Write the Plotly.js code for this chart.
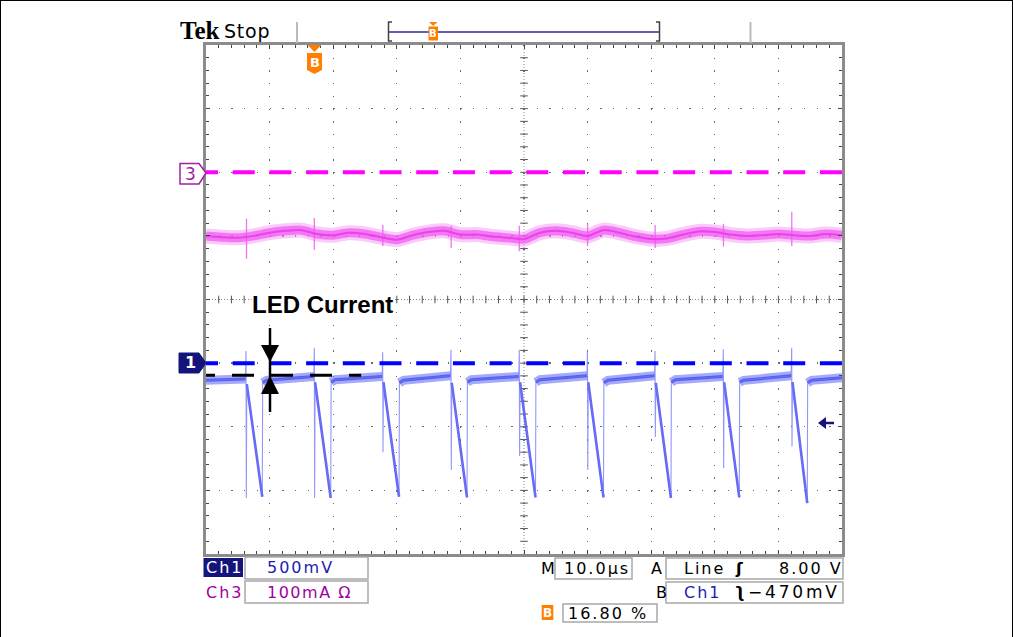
<!DOCTYPE html>
<html><head><meta charset="utf-8">
<script src="https://cdn.plot.ly/plotly-3.0.1.min.js"></script>
<style>
html,body{margin:0;padding:0;background:#fff;}
#wrap{position:relative;width:1013px;height:637px;overflow:hidden;}
#chart{position:absolute;left:0;top:0;width:1013px;height:637px;}
#frame{position:absolute;left:0;top:0;width:1013px;height:637px;box-sizing:border-box;border:1px solid #000;border-bottom:none;pointer-events:none;}
</style></head><body>
<div id="wrap"><div id="chart"></div><div id="frame"></div></div>
<script>
// ---------- data (time in µs, 10 µs/div; vertical in divisions) ----------
const timeRange = [0, 100];
const divRange = [-4, 4];
const ch3Ground = 2;
const ch1Ground = -1;
const ledCurrentLevel = -1.19;

// Ch1 (LED switch waveform, blue)
const blueSpikeT      = [6.29, 17.03, 27.78, 38.52, 49.26, 59.98, 70.60, 81.34, 92.09];
const blueSpikeTop    = [-0.81, -0.76, -0.83, -0.79, -0.79, -0.79, -0.81, -0.78, -0.76];
const blueSpikeLow    = [-3.12, -3.12, -2.40, -2.68, -2.46, -2.68, -2.16, -2.65, -2.31];
const blueRampTop     = [-1.33, -1.30, -1.30, -1.31, -1.30, -1.30, -1.31, -1.30, -1.30];
const blueRampEndT    = [8.85, 19.61, 30.35, 41.04, 51.81, 62.50, 73.11, 83.85, 94.54];
const blueRampBottom  = [-3.10, -3.12, -3.10, -3.11, -3.11, -3.11, -3.12, -3.11, -3.20];
const blueFlatStart   = [-1.27, -1.31, -1.30, -1.31, -1.30, -1.30, -1.31, -1.30, -1.30, -1.31];
const blueFlatKnee    = [-1.27, -1.27, -1.26, -1.27, -1.26, -1.26, -1.27, -1.26, -1.27, -1.27];
const blueFlatEnd     = [-1.25, -1.21, -1.21, -1.20, -1.21, -1.20, -1.20, -1.21, -1.20, -1.23];

// Ch3 (inductor current, magenta)
const pinkT = [0,2.5,5,7.5,10,12.5,15,17.5,20,22.5,25,27.5,30,32.5,35,37.5,40,42.5,45,47.5,50,52.5,55,57.5,60,62.5,65,67.5,70,72.5,75,77.5,80,82.5,85,87.5,90,92.5,95,97.5,100];
const pinkY = [1.00,0.98,0.97,1.00,1.05,1.08,1.09,1.03,1.01,1.05,1.03,0.98,0.94,1.01,1.06,1.08,1.02,1.02,0.99,0.97,0.95,1.05,1.08,1.05,1.00,1.09,1.05,0.99,0.95,0.96,1.02,1.07,1.06,1.02,1.00,1.01,1.03,1.01,1.00,1.03,1.01];
const pinkSpikeT  = [6.37, 17.03, 27.80, 38.55, 49.26, 60.00, 70.62, 81.36, 92.10];
const pinkSpikeHi = [1.27, 1.28, 1.17, 1.16, 1.16, 1.19, 1.17, 1.19, 1.38];
const pinkSpikeLo = [0.64, 0.78, 0.84, 0.81, 0.76, 0.84, 0.81, 0.83, 0.84];

// readout texts
const scopeBrand = "Tek", scopeState = "Stop";
const ch1Scale = "500mV", ch3Scale = "100mA \u03A9";
const timeScale = "10.0\u00B5s";
const trigA = ["Line", "\u0283", "8.00 V"];
const trigB = ["Ch1", "\u0283", "\u2212470mV"];
const trigPos = "16.80 %";
const annotationLabel = "LED Current";

// ---------- geometry helpers (pixel -> paper) ----------
const PL = 206, PT = 45, PR = 842, PB = 554;
const fx = p => (p - PL) / (PR - PL);
const fy = p => (PB - p) / (PB - PT);
const path = pts => 'M' + pts.map(p => fx(p[0]).toFixed(5) + ',' + fy(p[1]).toFixed(5)).join(' L') + ' Z';

// ---------- build traces ----------
const n = blueSpikeT.length;
const bx = [0], by = [blueFlatStart[0]];
const fxs = [], fys = [], rx = [], ry = [];
fxs.push(0, blueSpikeT[0] - 0.08, null); fys.push(blueFlatStart[0], blueFlatEnd[0], null);
for (let k = 0; k < n; k++) {
  const ts = blueSpikeT[k], te = blueRampEndT[k];
  bx.push(ts - 0.08, ts, ts + 0.05, ts + 0.12, te, te + 0.06);
  by.push(blueFlatEnd[k], blueSpikeTop[k], blueSpikeLow[k], blueRampTop[k], blueRampBottom[k], blueFlatStart[k + 1]);
  rx.push(ts + 0.12, te, null); ry.push(blueRampTop[k], blueRampBottom[k], null);
  const segEnd = (k + 1 < n) ? blueSpikeT[k + 1] - 0.08 : timeRange[1];
  bx.push(te + 0.7, segEnd); by.push(blueFlatKnee[k + 1], blueFlatEnd[k + 1]);
  fxs.push(te + 0.06, te + 0.7, segEnd, null); fys.push(blueFlatStart[k + 1], blueFlatKnee[k + 1], blueFlatEnd[k + 1], null);
}
const psx = [], psy = [];
pinkSpikeT.forEach((t, i) => { psx.push(t, t, null); psy.push(pinkSpikeHi[i], pinkSpikeLo[i], null); });

const common = {type: 'scatter', mode: 'lines', hoverinfo: 'skip', showlegend: false};
const traces = [
  Object.assign({x: pinkT, y: pinkY, line: {color: 'rgba(246,150,246,0.5)', width: 15, shape: 'spline', smoothing: 0.8}}, common),
  Object.assign({x: pinkT, y: pinkY, line: {color: 'rgba(240,85,240,0.7)', width: 9, shape: 'spline', smoothing: 0.8}}, common),
  Object.assign({x: psx, y: psy, line: {color: 'rgba(240,90,240,0.85)', width: 1.3}}, common),
  Object.assign({x: pinkT, y: pinkY, line: {color: 'rgba(232,50,232,0.8)', width: 2, shape: 'spline', smoothing: 0.8}}, common),
  Object.assign({x: fxs, y: fys, line: {color: 'rgba(90,100,245,0.55)', width: 9}}, common),
  Object.assign({x: fxs, y: fys, line: {color: 'rgba(70,80,235,0.85)', width: 3}}, common),
  Object.assign({x: rx, y: ry, line: {color: 'rgba(80,85,240,0.9)', width: 2.6}}, common),
  Object.assign({x: bx, y: by, line: {color: 'rgba(110,115,250,0.75)', width: 1.1}}, common)
];

// ---------- shapes ----------
const shapes = [];
// center crosshair
shapes.push({type: 'line', xref: 'x', yref: 'y', x0: 50, x1: 50, y0: divRange[0], y1: divRange[1], line: {color: '#8a8a8a', width: 1, dash: '1px,2px'}, layer: 'below'});
shapes.push({type: 'line', xref: 'x', yref: 'y', x0: 0, x1: 100, y0: 0, y1: 0, line: {color: '#8a8a8a', width: 1, dash: '1px,2px'}, layer: 'below'});
for (let i = 1; i < 50; i++) shapes.push({type: 'line', xref: 'x', yref: 'y', x0: 2 * i, x1: 2 * i, y0: -0.06, y1: 0.06, line: {color: '#555', width: 1}, layer: 'below'});
for (let j = -19; j < 20; j++) shapes.push({type: 'line', xref: 'x', yref: 'y', x0: 49.4, x1: 50.6, y0: j * 0.2, y1: j * 0.2, line: {color: '#555', width: 1}, layer: 'below'});
// ground reference lines
shapes.push({type: 'line', xref: 'x', yref: 'y', x0: -1.57, x1: 100, y0: ch3Ground, y1: ch3Ground, line: {color: '#ff00ff', width: 4, dash: '22px,14.7px'}});
shapes.push({type: 'line', xref: 'x', yref: 'y', x0: -1.57, x1: 100, y0: ch1Ground, y1: ch1Ground, line: {color: '#0000ff', width: 4, dash: '22px,14.7px'}});
// LED current level line
shapes.push({type: 'line', xref: 'x', yref: 'y', x0: -2.04, x1: 24.4, y0: ledCurrentLevel, y1: ledCurrentLevel, line: {color: '#000', width: 3, dash: '22px,17px'}});
// arrows
shapes.push({type: 'line', xref: 'paper', yref: 'paper', x0: fx(270), x1: fx(270), y0: fy(328), y1: fy(412), line: {color: '#000', width: 2.5}});
shapes.push({type: 'path', xref: 'paper', yref: 'paper', path: path([[261, 345], [279, 345], [270, 362]]), fillcolor: '#000', line: {width: 0}});
shapes.push({type: 'path', xref: 'paper', yref: 'paper', path: path([[270, 376], [279, 394], [261, 394]]), fillcolor: '#000', line: {width: 0}});
// channel markers
shapes.push({type: 'path', xref: 'paper', yref: 'paper', path: path([[180, 163.5], [199, 163.5], [206, 173], [199, 184], [180, 184]]), fillcolor: '#fff', line: {color: '#a020a0', width: 1.5}});
shapes.push({type: 'path', xref: 'paper', yref: 'paper', path: path([[179, 353], [199, 353], [206, 363], [199, 373], [179, 373]]), fillcolor: '#14147a', line: {color: '#14147a', width: 1}});
// trigger level arrow (right)
shapes.push({type: 'path', xref: 'paper', yref: 'paper', path: path([[818, 423], [826, 417], [826, 429]]), fillcolor: '#14147a', line: {width: 0}});
shapes.push({type: 'line', xref: 'paper', yref: 'paper', x0: fx(825), x1: fx(834), y0: fy(423), y1: fy(423), line: {color: '#14147a', width: 2.5}});
// top B marker in graticule
shapes.push({type: 'path', xref: 'paper', yref: 'paper', path: path([[307.5, 45], [321.5, 45], [314.5, 52]]), fillcolor: '#ff8000', line: {width: 0}});
shapes.push({type: 'path', xref: 'paper', yref: 'paper', path: path([[307, 53], [322, 53], [322, 70], [314.5, 74], [307, 70]]), fillcolor: '#ff8000', line: {width: 0}});
// header separators
shapes.push({type: 'line', xref: 'paper', yref: 'paper', x0: fx(297), x1: fx(297), y0: fy(22), y1: fy(43), line: {color: '#bbb', width: 2}});
shapes.push({type: 'line', xref: 'paper', yref: 'paper', x0: fx(750.5), x1: fx(750.5), y0: fy(22), y1: fy(43), line: {color: '#bbb', width: 2}});
// record bar
shapes.push({type: 'line', xref: 'paper', yref: 'paper', x0: fx(389), x1: fx(659), y0: fy(32), y1: fy(32), line: {color: '#2a2a9a', width: 1.5}});
shapes.push({type: 'path', xref: 'paper', yref: 'paper', path: 'M' + fx(392) + ',' + fy(22) + ' L' + fx(388.5) + ',' + fy(22) + ' L' + fx(388.5) + ',' + fy(41) + ' L' + fx(392) + ',' + fy(41), line: {color: '#444', width: 1.5}});
shapes.push({type: 'path', xref: 'paper', yref: 'paper', path: 'M' + fx(656) + ',' + fy(22) + ' L' + fx(659.5) + ',' + fy(22) + ' L' + fx(659.5) + ',' + fy(41) + ' L' + fx(656) + ',' + fy(41), line: {color: '#444', width: 1.5}});
shapes.push({type: 'path', xref: 'paper', yref: 'paper', path: path([[429, 22], [437.5, 22], [433.2, 26]]), fillcolor: '#ff8000', line: {width: 0}});
shapes.push({type: 'rect', xref: 'paper', yref: 'paper', x0: fx(428.5), x1: fx(438), y0: fy(40.5), y1: fy(26.5), fillcolor: '#ff8000', line: {width: 0}});
// readout boxes
const box = (x0, x1, y0, y1, fill, lc) => shapes.push({type: 'rect', xref: 'paper', yref: 'paper', x0: fx(x0), x1: fx(x1), y0: fy(y1), y1: fy(y0), fillcolor: fill, line: {color: lc, width: lc ? 1.5 : 0}});
box(203.5, 243, 558, 577, '#14147a', null);
box(245, 368, 557, 579, '#fff', '#a8a8a8');
box(245, 368, 581, 603, '#fff', '#a8a8a8');
box(555, 632, 558, 579, '#fff', '#a8a8a8');
box(666, 843, 558, 579, '#fff', '#a8a8a8');
box(666, 843, 582, 603, '#fff', '#a8a8a8');
box(563, 657, 604, 622, '#fff', '#a8a8a8');
box(541.7, 553.3, 605, 620, '#ff8000', null);

// ---------- annotations ----------
const annotations = [], spacing = [], mirrored = [];
const ann = (text, xp, yp, font, opts, sp, mir) => {
  annotations.push(Object.assign({text: text, x: fx(xp), y: fy(yp), xref: 'paper', yref: 'paper', xanchor: 'left', yanchor: 'middle', align: 'left', showarrow: false, borderpad: 0, font: font}, opts || {}));
  spacing.push(sp || 0); mirrored.push(!!mir);
};
const geneva = (c, s) => ({family: 'DejaVu Sans', size: s || 16, color: c});
ann('<b>' + scopeBrand + '</b>', 179, 31, {family: 'Liberation Serif', size: 25, color: '#000'});
ann(scopeState, 223, 31, geneva('#000', 19), null, 0.8);
ann('B', 433.2, 33.5, {family: 'DejaVu Sans', size: 10, color: '#fff', weight: 'bold'}, {xanchor: 'center'});
ann('B', 314.5, 62, {family: 'DejaVu Sans', size: 13, color: '#fff', weight: 'bold'}, {xanchor: 'center'});
ann('3', 190, 174, geneva('#a020a0', 17), {xanchor: 'center'});
ann('<b>1</b>', 190, 363, geneva('#fff', 16), {xanchor: 'center'});
ann('<b>' + annotationLabel + '</b>', 322, 304.5, {family: 'Liberation Sans', size: 24, color: '#000'}, {xanchor: 'center', bgcolor: '#fff'});
ann('Ch1', 205, 567, geneva('#fff'), null, 2);
ann(ch1Scale, 266, 567, geneva('#1c1cb0'), null, 2);
ann('Ch3', 205, 592, geneva('#a000a0'), null, 2);
ann(ch3Scale, 266, 592, geneva('#a000a0'), null, 1.5);
ann('M', 540, 568, geneva('#000'));
ann(timeScale, 563, 568, geneva('#000'), null, 2);
ann('A', 650, 568, geneva('#000'));
ann(trigA[0], 683, 568, geneva('#000'), null, 2);
ann('<b>' + trigA[1] + '</b>', 734, 568, geneva('#000'));
ann(trigA[2], 778, 568, geneva('#000'), null, 2);
ann('B', 655, 592, geneva('#000'));
ann(trigB[0], 683, 592, geneva('#1c1cb0'), null, 2);
ann('<b>' + trigB[1] + '</b>', 735, 592, geneva('#000'), null, 0, true);
ann(trigB[2], 747, 592, geneva('#000', 17), null, 2.8);
ann('B', 547.5, 612.5, {family: 'DejaVu Sans', size: 12, color: '#fff', weight: 'bold'}, {xanchor: 'center'});
ann(trigPos, 567, 613, geneva('#000'), null, 2);

// ---------- layout ----------
const axisCommon = {
  showgrid: true, gridcolor: '#6a6a6a', gridwidth: 1.3, griddash: '1.3px,11.42px',
  zeroline: false, showline: true, linecolor: '#8c8c8c', linewidth: 3, mirror: 'ticks',
  ticks: 'inside', ticklen: 4, tickcolor: '#444', tickwidth: 1, showticklabels: false, fixedrange: true
};
const layout = {
  width: 1013, height: 637, autosize: false,
  margin: {l: PL, r: 1013 - PR, t: PT, b: 637 - PB, pad: 0},
  paper_bgcolor: '#fff', plot_bgcolor: '#fff', showlegend: false,
  xaxis: Object.assign({range: timeRange, dtick: 10, tick0: 0, minor: {dtick: 2, tick0: 0, ticks: 'inside', ticklen: 3, tickcolor: '#444', tickwidth: 1, showgrid: false}}, axisCommon),
  yaxis: Object.assign({range: divRange, dtick: 1, tick0: 0, minor: {dtick: 0.2, tick0: 0, ticks: 'inside', ticklen: 3, tickcolor: '#444', tickwidth: 1, showgrid: false}}, axisCommon),
  shapes: shapes, annotations: annotations
};

Plotly.newPlot('chart', traces, layout, {staticPlot: true, displayModeBar: false}).then(() => {
  document.querySelectorAll('#chart g.annotation').forEach(g => {
    const i = +g.getAttribute('data-index');
    const t = g.querySelector('text');
    if (!t) return;
    if (spacing[i]) t.style.letterSpacing = spacing[i] + 'px';
    if (mirrored[i]) { t.style.transformBox = 'fill-box'; t.style.transformOrigin = 'center'; t.style.transform = 'scaleX(-1)'; }
  });
});
</script>
</body></html>
